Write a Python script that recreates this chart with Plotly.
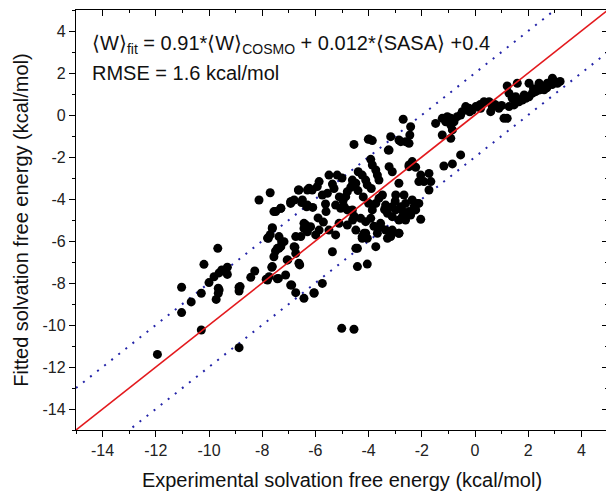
import plotly.graph_objects as go

exp_x = [
    -7.70, -8.12, -7.49, -7.62, -7.80, -7.70, -7.50, -9.67, -10.19, -9.52, -9.31, -9.31, -9.81, -10.0, -11.03,
    -10.29, -9.65, -9.65, -9.73, -8.87, -8.87, -8.43, -8.28, -7.85, -7.64, -7.43, -10.67, -11.03, -10.29, -8.87, -11.94,
    -2.70, -2.42, -2.45, -4.01, -3.86, -4.55, -3.17, -2.79, -2.48, -3.26, -3.92, -3.86, -3.73, -3.67, -3.61,
    -3.23, -3.11, -2.48, -2.36, -4.39, -4.24, -4.11, -4.05, -5.49, -5.18, -4.61, -4.48, -4.67, -4.80, -4.86,
    -4.96, -4.92, -5.86, -5.93, -5.36, -6.24, -6.12, -5.55, -5.74, -6.62, -6.93, -6.49, -6.30, -5.62, -5.24,
    -5.05, -4.80, -4.61, -4.55, -4.30, -4.11, -3.92, -3.86, -3.73, -3.61, -3.48, -3.36, -3.11, -2.98, -2.79,
    -2.61, -2.36, -2.17, -3.29, -3.11, -2.86, -2.67, -2.42, -2.23, -2.98, -2.67, -2.86, -3.55, -3.36, -3.17,
    -3.11, -2.86, -3.73, -4.17, -4.05, -4.24, -4.48, -4.80, -5.11, -4.48, -4.42, -4.05, -5.24, -5.49, -5.86,
    -5.99, -6.18, -6.36, -6.43, -6.30, -6.55, -6.74, -6.80, -6.74, -6.62, -5.36, -7.18, -7.30, -7.43, -7.56,
    -7.62, -7.74, -7.80, -7.62, -7.37, -7.56, -7.30, -6.93, -6.80, -7.12, -6.93, -6.74, -6.43, -6.05, -5.74,
    -7.06, -9.62, -9.62,
    2.91, 3.10, 2.72, 2.53, 2.41, 2.28, 2.15, 2.03, 1.91, 1.78, 1.65, 1.53, 1.59, 2.03, 2.41, 1.21, 1.28,
    1.40, 1.47, 1.28, 1.21, 1.09, 0.90, 0.65, 0.59, 0.53, 0.34, 0.21, 0.03, -0.10, -0.23, -0.35, -0.48, -0.54,
    -0.67, -0.79, -0.91, -1.04, -1.10, -1.23, -0.91, -0.85, -0.91, -1.23, -1.48, -0.54, -0.85, -1.17, -1.73,
    -1.66, -2.04, -2.11, -1.92, -1.73, -2.04, -2.61, -2.86, -3.23, -3.98, -2.48, -2.23, -2.11, -2.29, -2.48,
    -2.73, -2.61, -2.86, -3.17, -3.29, -3.55, -3.67, -4.11, -4.24, -4.42, -6.05,
    -6.64, -6.30, -6.91, -6.52, -7.30, -6.33, -7.77, -6.43, -6.34, -6.77, -7.27, -7.37, -7.04, -6.59, -7.39,
    -6.89, -8.83,
    -5.01, -4.55,
    2.70, 2.90, 3.20, 2.20, 1.85, 1.00, 0.75, 0.20, -0.20, 2.60, 3.00,
    -4.60, -4.40, -4.20, -3.90, -5.00, -5.30, -5.10, -4.00, -3.40, -3.00, -2.70, -3.80, -4.60, -5.60, -5.90,
    -6.10, -5.70,
]

fit_y = [
    -3.70, -4.05, -4.60, -5.37, -5.86, -5.70, -6.48, -6.35, -7.11, -7.38, -7.25, -7.59, -7.70, -7.98, -8.20,
    -8.49, -8.25, -8.49, -8.78, -8.20, -8.38, -7.73, -7.43, -7.82, -7.25, -7.80, -8.90, -9.41, -10.24, -11.08, -11.40,
    -0.20, -0.56, -0.95, -1.16, -1.22, -1.40, -1.03, -1.27, -1.35, -1.67, -2.11, -2.38, -2.62, -2.86, -3.10,
    -2.46, -2.70, -2.38, -2.22, -2.70, -2.86, -3.10, -3.33, -2.86, -2.86, -3.10, -3.25, -3.44, -3.65, -3.89,
    -4.08, -4.37, -3.17, -3.41, -3.29, -3.49, -3.57, -3.73, -3.81, -3.57, -4.13, -4.05, -4.29, -4.24, -4.29,
    -4.44, -4.52, -4.52, -4.81, -4.92, -5.08, -4.92, -4.52, -4.21, -3.97, -3.81, -4.29, -4.37, -4.52, -4.37,
    -4.21, -4.05, -4.21, -4.68, -4.84, -5.00, -4.84, -4.76, -4.52, -3.81, -3.81, -3.25, -5.16, -5.48, -5.79,
    -5.48, -5.63, -6.27, -5.63, -5.87, -5.87, -5.48, -5.24, -5.16, -6.35, -7.22, -7.10, -5.71, -5.48, -5.48,
    -5.71, -5.32, -5.24, -5.40, -5.56, -5.79, -5.79, -6.27, -6.59, -7.06, -6.51, -6.03, -6.27, -6.35, -6.75,
    -7.22, -7.70, -7.86, -5.40, -5.79, -4.60, -4.44, -4.21, -4.05, -7.62, -8.10, -8.46, -8.73, -8.46, -8.02,
    -6.90, -7.52, -8.33,
    1.75, 1.51, 1.51, 1.35, 1.19, 1.11, 1.03, 0.87, 0.80, 0.71, 0.63, 0.87, 1.51, 1.51, 1.51, 1.38, 1.03,
    0.80, 0.48, 0.40, -0.16, -0.16, 0.32, 0.40, 0.16, 0.63, 0.63, 0.32, 0.40, 0.24, 0.32, 0.40, 0.16, 0.00,
    -0.08, -0.32, -0.16, -0.08, -0.32, -0.16, -0.48, -0.71, -1.11, -0.95, -0.40, -1.90, -2.33, -2.43, -2.78,
    -3.17, -2.86, -3.17, -3.17, -3.57, -4.97, -1.27, -1.19, -1.67, -1.14, -2.46, -2.49, -4.21, -4.37, -4.60,
    -4.84, -5.00, -5.63, -5.71, -5.87, -5.32, -5.63, -5.63, -5.79, -6.35, -8.49,
    -3.57, -3.57, -4.13, -4.17, -4.44, -4.37, -5.87, -5.16, -5.48, -6.30, -6.03, -6.35, -6.90, -7.14, -7.78,
    -8.10, -8.17,
    -10.16, -10.20,
    1.30, 1.45, 1.60, 1.25, 0.95, 0.45, 0.50, 0.50, 0.15, 1.20, 1.60,
    -3.30, -3.60, -3.90, -3.50, -3.00, -3.50, -3.90, -4.20, -4.50, -4.10, -4.60, -5.30, -5.00, -4.60, -4.90,
    -4.40, -5.10,
]

diag_x = [-15, 5]
band_offset = 2.0
x_ticks = [-14, -12, -10, -8, -6, -4, -2, 0, 2, 4]
x_tick_labels = ["-14", "-12", "-10", "-8", "-6", "-4", "-2", "0", "2", "4"]
y_ticks = [-14, -12, -10, -8, -6, -4, -2, 0, 2, 4]
y_tick_labels = ["-14", "-12", "-10", "-8", "-6", "-4", "-2", "0", "2", "4"]
x_title = "Experimental solvation free energy (kcal/mol)"
y_title = "Fitted solvation free energy (kcal/mol)"
eq_text = "⟨W⟩<sub>fit</sub> = 0.91*⟨W⟩<sub>COSMO</sub> + 0.012*⟨SASA⟩ +0.4"
rmse_text = "RMSE = 1.6 kcal/mol"

FONT = "Arial, Liberation Sans, Helvetica, sans-serif"

fig = go.Figure()
fig.add_trace(go.Scatter(x=diag_x, y=[v + band_offset for v in diag_x], mode="lines",
                         line=dict(color="#2424a8", width=2, dash="2px,7px"), hoverinfo="skip", showlegend=False))
fig.add_trace(go.Scatter(x=diag_x, y=[v - band_offset for v in diag_x], mode="lines",
                         line=dict(color="#2424a8", width=2, dash="2px,7px"), hoverinfo="skip", showlegend=False))
fig.add_trace(go.Scatter(x=exp_x, y=fit_y, mode="markers",
                         marker=dict(color="black", size=9, line=dict(width=0)), showlegend=False))
fig.add_trace(go.Scatter(x=diag_x, y=diag_x, mode="lines",
                         line=dict(color="#e3191d", width=1.6), hoverinfo="skip", showlegend=False))
fig.add_trace(go.Scatter(x=[diag_x[0]], y=[diag_x[0]], xaxis="x2", yaxis="y2", mode="markers",
                         marker=dict(opacity=0), hoverinfo="skip", showlegend=False))

axis_common = dict(range=[-15, 5], showgrid=False, zeroline=False, automargin=False,
                   showline=True, linecolor="black", linewidth=1.3,
                   tickcolor="black", tickwidth=1.3, ticklen=6,
                   tickfont=dict(family=FONT, size=16, color="#222"))
minor_out = dict(ticks="outside", ticklen=3, dtick=1, tick0=0, tickcolor="black", tickwidth=1.2)
minor_in = dict(ticks="inside", ticklen=3, dtick=1, tick0=0, tickcolor="black", tickwidth=1.2)

# the page body adds an 8px offset, so margins are set relative to that
fig.update_layout(
    width=614, height=503,
    margin=dict(l=68, r=14, t=2, b=81),
    paper_bgcolor="white", plot_bgcolor="white",
    font=dict(family=FONT, color="#111"),
    xaxis=dict(**axis_common, tickvals=x_ticks, ticktext=x_tick_labels, ticks="outside", minor=minor_out,
               title=dict(text=x_title, font=dict(family=FONT, size=20, color="#111"), standoff=14)),
    yaxis=dict(**axis_common, tickvals=y_ticks, ticktext=y_tick_labels, ticks="outside", minor=minor_out,
               title=dict(text=y_title, font=dict(family=FONT, size=20, color="#111"), standoff=8)),
    xaxis2=dict(**axis_common, tickvals=x_ticks, overlaying="x", side="top", anchor="y", ticks="inside",
                showticklabels=False, minor=minor_in),
    yaxis2=dict(**axis_common, tickvals=y_ticks, overlaying="y", side="right", anchor="x", ticks="inside",
                showticklabels=False, minor=minor_in),
    annotations=[
        dict(text=eq_text, xref="paper", yref="paper", x=0.027, y=0.918, xanchor="left", yanchor="middle",
             showarrow=False, font=dict(family=FONT, size=20, color="#111")),
        dict(text=rmse_text, xref="paper", yref="paper", x=0.027, y=0.85, xanchor="left", yanchor="middle",
             showarrow=False, font=dict(family=FONT, size=20, color="#111")),
    ],
)

fig.write_html("out.html")
